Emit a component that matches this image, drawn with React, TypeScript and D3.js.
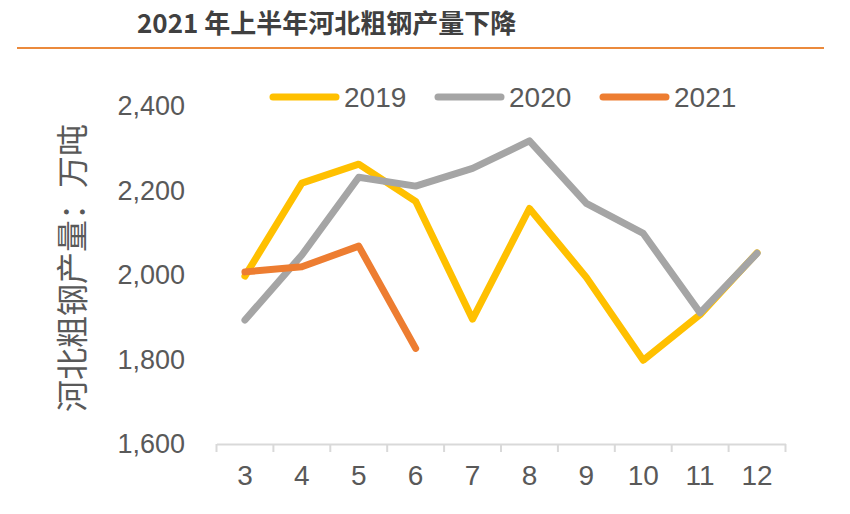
import React, { useEffect, useRef } from "react";
import * as d3 from "d3";

const months = ["3", "4", "5", "6", "7", "8", "9", "10", "11", "12"];
const s2019 = [1995, 2215, 2260, 2172, 1893, 2155, 1992, 1796, 1904, 2050];
const s2020 = [1891, 2045, 2229, 2208, 2250, 2315, 2167, 2096, 1908, 2049];
const s2021 = [2005, 2017, 2066, 1824];
const seriesNames = ["2019", "2020", "2021"];
const seriesColors = ["#FFC000", "#A5A5A5", "#ED7D31"];
const yTicks = [1600, 1800, 2000, 2200, 2400];
const title = "2021 年上半年河北粗钢产量下降";
const yLabel = "河北粗钢产量：万吨";

export default function App() {
  const ref = useRef<SVGSVGElement | null>(null);

  useEffect(() => {
    document.body.style.margin = "0";
    const svg = d3.select(ref.current);
    svg.selectAll("*").remove();

    const W = 850, H = 514;
    const left = 216.5, right = 785.5, top = 105, bottom = 443;
    const x = d3.scaleBand<string>().domain(months).range([left, right]);
    const y = d3.scaleLinear().domain([1600, 2400]).range([bottom, top]);
    const cx = (m: string) => (x(m) as number) + x.bandwidth() / 2;

    svg.append("rect").attr("width", W).attr("height", H).attr("fill", "#fff");

    // title
    svg.append("text")
      .attr("x", 137).attr("y", 33)
      .attr("font-family", "'Noto Sans CJK SC', sans-serif")
      .attr("font-weight", "bold")
      .attr("font-size", 26)
      .attr("fill", "#404040")
      .text(title);
    svg.append("line")
      .attr("x1", 17).attr("x2", 824).attr("y1", 48).attr("y2", 48)
      .attr("stroke", "#EB8A3C").attr("stroke-width", 2);

    // y label
    svg.append("text")
      .attr("transform", `translate(84, 268) rotate(-90)`)
      .attr("text-anchor", "middle")
      .attr("font-family", "'Noto Sans CJK SC', sans-serif")
      .attr("font-size", 32)
      .attr("fill", "#595959")
      .text(yLabel);

    // y tick labels
    const fmt = d3.format(",");
    svg.append("g").selectAll("text").data(yTicks).join("text")
      .attr("x", 185).attr("y", d => y(d) + 10)
      .attr("text-anchor", "end")
      .attr("font-family", "'Liberation Sans', Arial, sans-serif")
      .attr("font-size", 27)
      .attr("fill", "#595959")
      .text(d => fmt(d));

    // x axis
    const axis = d3.axisBottom(x).tickSize(0).tickFormat(() => "");
    const gx = svg.append("g").attr("transform", `translate(0, ${bottom + 1})`).call(axis);
    gx.select(".domain").attr("stroke", "#D9D9D9").attr("stroke-width", 2);
    const bounds = [left, ...months.map(m => (x(m) as number) + x.bandwidth())];
    svg.append("g").selectAll("line").data(bounds).join("line")
      .attr("x1", d => d).attr("x2", d => d)
      .attr("y1", bottom + 1).attr("y2", bottom + 9)
      .attr("stroke", "#D9D9D9").attr("stroke-width", 2);
    svg.append("g").selectAll("text").data(months).join("text")
      .attr("x", d => cx(d)).attr("y", 485)
      .attr("text-anchor", "middle")
      .attr("font-family", "'Liberation Sans', Arial, sans-serif")
      .attr("font-size", 28)
      .attr("fill", "#595959")
      .text(d => d);

    // lines
    const all = [s2019, s2020, s2021];
    const line = d3.line<number>()
      .x((_, i) => cx(months[i]))
      .y(d => y(d));
    all.forEach((s, i) => {
      svg.append("path")
        .datum(s)
        .attr("d", line)
        .attr("fill", "none")
        .attr("stroke", seriesColors[i])
        .attr("stroke-width", 7)
        .attr("stroke-linejoin", "round")
        .attr("stroke-linecap", "round");
    });

    // legend
    const legX = [270, 435, 600];
    seriesNames.forEach((n, i) => {
      svg.append("line")
        .attr("x1", legX[i] + 3).attr("x2", legX[i] + 66)
        .attr("y1", 97).attr("y2", 97)
        .attr("stroke", seriesColors[i]).attr("stroke-width", 7)
        .attr("stroke-linecap", "round");
      svg.append("text")
        .attr("x", legX[i] + 74).attr("y", 107)
        .attr("font-family", "'Liberation Sans', Arial, sans-serif")
        .attr("font-size", 28)
        .attr("fill", "#595959")
        .text(n);
    });
  }, []);

  return <svg ref={ref} width={850} height={514} style={{ display: "block" }} />;
}
